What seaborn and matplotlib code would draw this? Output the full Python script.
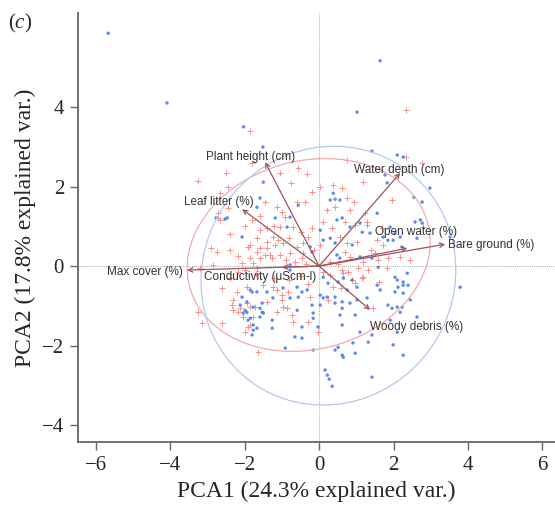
import numpy as np
import pandas as pd
import matplotlib
matplotlib.use("Agg")
import matplotlib.pyplot as plt
from matplotlib.patches import Ellipse
import seaborn as sns

# PCA scores, group 1 (red crosses)
red_x = [-1.85, 2.34, -2.5, -3.25, -2.45, -1.8, 2.34, 2.77, 0.75, -1.05, -0.56, -0.32, -0.75, 0.03,
         0.38, 1.18, -0.38, -1.13, -0.91, -1.05, -0.7, 0.22, 0.43, 0.75, 0.83, 0.70, 0.35, 0.11,
         0.97, 1.29, 0.56, 0.03, 0.75, 1.02, -0.3, -0.43, -0.59, -0.97, -1.18, -1.24, -0.78, -1.05,
         -0.43, -0.46, 0.83, 1.18, 0.3, -1.26, 1.96, 2.8, 1.56, 1.72, 1.51, 1.59, 1.85, 2.18, 2.45,
         -2.66, -1.45, -2.45, -2.72, -2.66, -1.8, -1.59, -1.40, -1.67, -1.91, -2.39, -1.59, -2.18,
         -1.85, -1.59, -1.45, -2.07, -1.77, -2.85, -2.72, -1.85, -1.40, -1.67, -1.32, -1.99, -1.67,
         -3.2, -2.2, -1.94, -1.5, -1.24, -2.31, -1.94, -1.40, -2.31, -1.77, -1.85, -1.99, -3.25,
         -3.15, -1.64, -2.74, -2.34, -2.12, -1.85, -1.72, -2.18, -2.04, -1.91, -2.61, -2.18, 0.62,
         0.78, 1.05, 1.16, 0.97, 0.3, 0.38, -1.13, -0.83, -0.99, -0.24, -0.99, 0.24, -0.97, -1.13,
         -0.86, -0.73, -0.7, -0.03, 0.62, 1.24, 1.45, 0.65, 0.89, 1.18, 1.32, 1.83,
         -0.9, -0.65, -0.35, -0.15, -1.4, -1.1, -0.8, -0.5, -0.2, -1.0, -0.6, -0.2, 0.1, -0.5,
         -0.8, -1.2, -0.3, 0.5, 0.7, 1.4, 1.7, 0.95, 1.3, -1.7, -2.4, -2.6, -2.9, -2.4, -2.0,
         -1.2, -1.6, -0.3, 0.6, 1.6]
red_y = [3.39, 3.92, 2.34, 2.14, 1.99, 2.59, 2.74, 2.59, 2.66, 2.34, 2.46, 2.31, 2.08, 1.99,
         2.04, 2.11, 1.61, 1.48, 1.23, 0.98, 0.98, 1.41, 1.48, 1.71, 1.41, 1.11, 0.95, 1.11,
         1.03, 1.03, 0.73, 0.53, 0.58, 0.60, 0.73, 0.58, 0.48, 0.58, 0.53, 0.73, 0.33, 0.28,
         0.33, 0.2, 0.23, 0.1, 0.1, 0.2, 1.66, 0.98, 0.65, 0.53, 0.33, 0.15, 0.20, 0.23, 0.15,
         1.83, 1.61, 1.46, 1.21, 1.16, 1.16, 0.9, 0.95, 0.70, 0.48, 0.40, 0.45, 0.25,
         0.2, 0.2, 0.28, 0.08, 0.08, 0.03, 1.33, 0.53, 0.6, 0.35, 0.28, -0.1, -0.05,
         -0.05, -0.65, -0.53, -0.48, -0.53, -0.85, -0.93, -0.9, -1.11, -1.28, -1.48, -1.66, -1.16,
         -1.43, -2.16, 0.35, -0.98, -1.06, -1.03, -1.03, -1.16, -1.28, -1.53, -1.43, -0.15, -0.1,
         -0.15, -0.05, -0.3, -0.43, -0.23, -0.53, -0.6, -0.65, -0.73, -0.78, -0.85, -0.85, -1.03, -1.16,
         -1.06, -1.23, -1.41, -1.66, 1.96, 1.33, -1.06, -0.18, -0.35, -0.28, -0.1, -0.05,
         0.15, 0.1, 0.05, 0.4, 0.45, 0.65, 0.7, 0.85, 0.95, 1.35, 1.6, 1.85, -0.15, -0.25,
         -0.35, -0.3, -0.45, 0.05, 0.35, 0.4, 0.95, 1.6, 1.1, -0.2, -0.3, -0.55, 0.45, 0.8, 1.0,
         1.0, 1.25, -1.4, -0.55, -0.4]

# group 2 (blue dots)
blue_x = [-5.67, -4.09, 1.64, -2.03, 1.02, -1.51, -1.5, 1.42, 2.1, 2.26, 1.77, 1.83, 2.98, 2.55,
          0.43, -0.56, -0.78, -0.86, -1.18, 0.38, 0.56, 0.3, 0.62, 0.48, 0.03, 1.10, 1.16, 0.11,
          0.30, 0.43, 0.89, -0.24, -0.19, 0.48, 0.56, 1.10, -0.78, 2.77, 1.56, 2.58, 2.72, 2.77,
          1.72, 1.85, 1.99, 2.04, 2.18, 3.52, -1.59, -1.67, -2.77, -2.53, -2.07, -2.47, -1.8,
          -1.40, -2.12, -1.77, -1.59, -1.5, -2.04, -1.91, -1.26, -1.77, -1.8, -1.85, -1.67, -2.07,
          -1.94, -1.99, -1.53, -1.53, -1.94, -1.85, -1.59, -1.77, -1.67, -0.78, 0.89, 0.65, 0.11,
          0.24, 0.51, -0.97, -0.59, -0.46, -0.32, -1.24, -0.78, -0.56, 0.03, 0.11, 0.22, 0.43, 0.43,
          0.62, 0.83, 1.02, -0.59, -0.19, 0.03, -0.16, -0.16, 0.62, 0.56, 0.97, -0.46, -0.03, -0.65,
          -0.46, 0.62, 1.10, -1.26, -0.91, -0.16, 0.51, 0.43, 0.65, 0.97, 0.16, 0.22, 0.27, 0.35,
          1.32, 1.42, 0.83, 1.37, 3.79, 2.37, 2.1, 2.26, 1.59, 2.12, 2.26, 2.45, 2.1, 1.64, 1.85,
          2.63, 1.91, 1.29, 1.99, 2.26, 0.62, 0.91, 1.02, 0.75, 1.42, 2.23, 2.63, 1.91, 2.04,
          2.26, 2.39, 1.56, 2.04, 1.96, 2.23, 2.18, 2.1, 1.42]
blue_y = [5.85, 4.10, 5.16, 3.5, 3.87, 2.99, 2.11, 2.89, 2.79, 2.74, 2.29, 2.09, 1.96, 1.73,
          1.68, 1.53, 1.23, 0.98, 1.21, 1.83, 1.66, 1.66, 1.21, 1.16, 0.9, 1.08, 0.85, 0.65,
          0.70, 0.58, 0.53, 0.48, 0.35, 0.28, 0.2, 0.23, 0.03, 1.61, 1.33, 1.11, 1.16, 1.08,
          0.73, 0.65, 0.65, 0.83, 0.73, 0.73, 1.71, 1.48, 1.21, 1.18, 0.73, 1.21, -0.65,
          -0.65, -0.98, -1.03, -1.06, -1.18, -1.18, -1.36, -1.36, -1.61, -1.73, -0.6, -0.65, -0.78,
          -0.9, -1.11, -0.93, -1.16, -1.16, -1.31, -1.28, -1.48, -1.56, -0.1, -0.35, -0.3, -0.28,
          -0.43, -0.4, -0.55, -0.53, -0.65, -0.6, -0.8, -0.8, -0.78, -0.73, -0.8, -0.78, -0.78, -0.93,
          -0.9, -0.93, -0.85, -1.11, -0.98, -0.98, -1.18, -1.31, -1.06, -1.23, -1.23, -1.53, -1.53, -1.78,
          -1.81, -1.48, -1.66, -1.56, -2.06, -2.11, -2.04, -2.11, -2.29, -2.19, -2.61, -2.74, -2.84, -3.02,
          -1.91, -2.79, 0.98, 0.83, -0.53, -0.18, -0.35, -0.4, -0.03, -0.53, -0.68, -0.85, -1.03, -0.6, -0.98,
          -1.28, -1.36, -0.8, -1.98, -2.24, -2.24, -1.93, -0.53, -0.6, 0.2, 0.48, 0.70, 0.98, -0.28,
          -0.48, -0.48, -0.48, -0.65, -1.06, -1.03, -1.16, -1.66, -1.73]

# loading arrows: tip and label position
var_names = ["Plant height (cm)", "Water depth (cm)", "Leaf litter (%)", "Max cover (%)",
             "Conductivity (\u03bcScm-l)", "Open water (%)", "Bare ground (%)", "Woody debris (%)"]
tip_x = [-1.45, 2.18, -2.07, -3.55, -1.0, 2.37, 3.39, 1.37]
tip_y = [2.61, 2.34, 1.43, -0.1, -0.03, 0.45, 0.55, -1.1]
lab_x = [-1.85, 2.15, -2.69, -4.68, -1.59, 2.61, 4.62, 2.63]
lab_y = [2.74, 2.41, 1.61, -0.15, -0.28, 0.85, 0.53, -1.53]

# normal ellipses per group: centre, full width/height, angle
ell_red = (-0.28, 0.28, 6.6, 4.75, 12)
ell_blue = (0.25, -0.24, 6.9, 6.45, 20)

red_col = "#F8766D"
blue_col = "#4A7FEA"
arrow_col = "#A0525A"

sns.set_style("white")
plt.rcParams["font.family"] = ["Liberation Serif", "DejaVu Serif"]
plt.rcParams["mathtext.fontset"] = "custom"
plt.rcParams["mathtext.rm"] = "Liberation Serif"
plt.rcParams["mathtext.it"] = "Liberation Serif:italic"

fig = plt.figure(figsize=(5.55, 5.09), dpi=100)
ax = fig.add_axes([78 / 555, 67 / 509, 477 / 555, 429 / 509])

ax.axhline(0, color="#aaaaaa", lw=0.7, ls=(0, (1, 1.2)), zorder=1)
ax.axvline(0, color="#aaaaaa", lw=0.7, ls=(0, (1, 1.2)), zorder=1)

df_red = pd.DataFrame({"PC1": red_x, "PC2": red_y})
df_blue = pd.DataFrame({"PC1": blue_x, "PC2": blue_y})
sns.scatterplot(data=df_red, x="PC1", y="PC2", marker="+", s=16, color=red_col,
                linewidth=0.7, alpha=0.8, ax=ax, zorder=2)
sns.scatterplot(data=df_blue, x="PC1", y="PC2", marker="o", s=6, color=blue_col,
                edgecolor="none", alpha=0.9, ax=ax, zorder=2)

for (cx, cy, w, h, ang), c in [(ell_red, "#F5AAAA"), (ell_blue, "#B5C8F2")]:
    ax.add_patch(Ellipse((cx, cy), w, h, angle=ang, fill=False, ec=c, lw=0.9, zorder=3))

for name, tx, ty, lx, ly in zip(var_names, tip_x, tip_y, lab_x, lab_y):
    ax.annotate("", xy=(tx, ty), xytext=(0, 0),
                arrowprops=dict(arrowstyle="->", color=arrow_col, lw=0.9,
                                shrinkA=0, shrinkB=0, mutation_scale=8), zorder=4)
    ax.text(lx, ly, name, ha="center", va="center", fontsize=8.5, color="#333333",
            family=["Liberation Sans", "DejaVu Sans"], zorder=5)

ax.set_xlim(-6.48, 6.34)
ax.set_ylim(-4.42, 6.36)
ax.set_xticks([-6, -4, -2, 0, 2, 4, 6])
ax.set_yticks([-4, -2, 0, 2, 4])
ax.set_xlabel("PCA1 (24.3% explained var.)", fontsize=17, labelpad=4)
ax.set_ylabel("PCA2 (17.8% explained var.)", fontsize=17, labelpad=4)
ax.tick_params(axis="both", labelsize=15, length=6, width=1.0, color="#666666",
               direction="out", pad=4, left=True, bottom=True)
sns.despine(ax=ax)
for sp in ["left", "bottom"]:
    ax.spines[sp].set_color("#666666")
    ax.spines[sp].set_linewidth(1.3)

fig.text(20 / 555, 1 - 23 / 509, "($c$)", fontsize=15, ha="center", va="center")

fig.savefig("out.png", dpi=100)
